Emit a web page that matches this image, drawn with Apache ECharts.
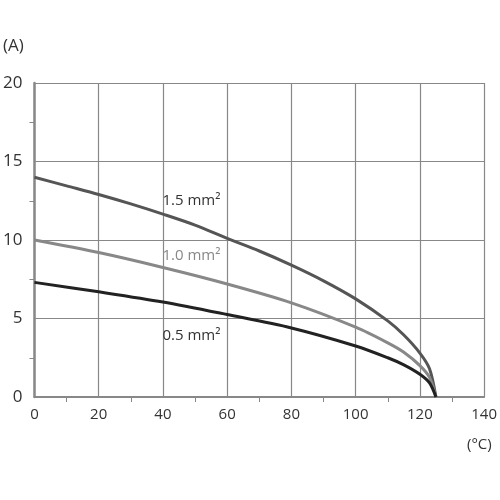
<!DOCTYPE html><html><head><meta charset="utf-8"><script src="https://cdn.jsdelivr.net/npm/echarts@6/dist/echarts.min.js"></script></head><body style="margin:0"><div id="c" style="width:500px;height:500px"></div><script>
const temps15=[0,10,20,30,40,50,60,70,80,90,100,110,115,120,123,125];
const amps15=[14,13.45,12.9,12.3,11.65,10.95,10.1,9.3,8.4,7.4,6.25,4.85,3.95,2.8,1.8,0];
const temps10=[0,20,40,60,80,100,110,115,120,123,125];
const amps10=[10,9.2,8.25,7.2,6.0,4.45,3.45,2.85,2.0,1.25,0];
const temps05=[0,20,40,60,80,100,110,115,120,123,125];
const amps05=[7.3,6.7,6.05,5.25,4.4,3.25,2.5,2.05,1.45,0.9,0];
const labels=[{name:'1.5 mm²',at:[40,12.5]},{name:'1.0 mm²',at:[40,9.0]},{name:'0.5 mm²',at:[40,3.9]}];
const zip=(a,b)=>a.map((x,i)=>[x,b[i]]);
const font='"Open Sans", sans-serif';
const mk=(d,c,lab,w)=>({type:'line',data:d,smooth:0.3,showSymbol:false,lineStyle:{color:c,width:w},
 markPoint:{symbol:'rect',symbolSize:1,itemStyle:{color:'transparent'},data:[{coord:lab.at,label:{show:true,formatter:lab.name,color:c==='#888888'?'#888':'#333',fontSize:15,fontFamily:font,position:'right',offset:[-6,0]}}]}});
const ch=echarts.init(document.getElementById('c'));
ch.setOption({animation:false,
grid:{left:33,right:15,top:83,bottom:103},
xAxis:{type:'value',min:0,max:140,interval:20,axisLine:{lineStyle:{color:'#888',width:2}},axisTick:{show:false},minorTick:{show:true,splitNumber:2,length:5,lineStyle:{color:'#888'}},axisLabel:{color:'#333',fontSize:15,fontFamily:font,margin:10},splitLine:{lineStyle:{color:'#888',width:1.2}}},
yAxis:{type:'value',min:0,max:20,interval:5,axisLine:{show:true,lineStyle:{color:'#888',width:2.5}},axisTick:{show:false},minorTick:{show:true,splitNumber:2,length:5,lineStyle:{color:'#888'}},axisLabel:{color:'#333',fontSize:17,fontFamily:font,margin:12},splitLine:{lineStyle:{color:'#888',width:1.2}}},
graphic:[{type:'text',left:3,top:38,style:{text:'(A)',fontSize:17,fontFamily:font,fill:'#333'}},{type:'text',left:467,top:437,style:{text:'(°C)',fontSize:15,fontFamily:font,fill:'#333'}}],
series:[mk(zip(temps15,amps15),'#555555',labels[0],3),mk(zip(temps10,amps10),'#888888',labels[1],3),mk(zip(temps05,amps05),'#222222',labels[2],3)]});
</script></body></html>
